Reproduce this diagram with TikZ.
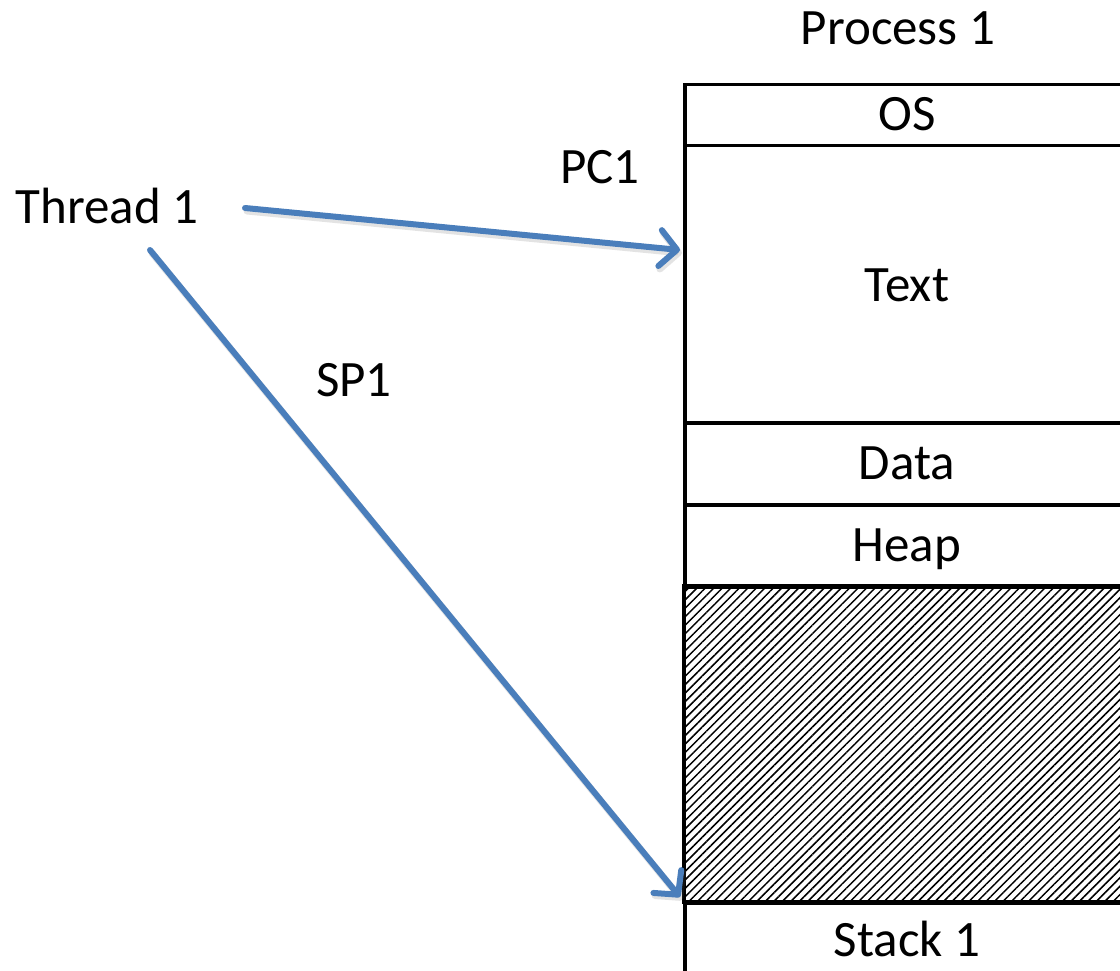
\documentclass[tikz,border=0pt]{standalone}
\usepackage{fontspec}
\setmainfont{Carlito}
\usetikzlibrary{arrows.meta,patterns.meta}
\definecolor{arrowblue}{HTML}{4A7EBB}
\begin{document}
\begin{tikzpicture}[x=1pt,y=-1pt,
  lbl/.style={anchor=base,inner sep=0pt,font=\fontsize{51}{60}\selectfont},
  seg/.style={draw=black,line width=3.5pt,minimum width=480pt,anchor=north west,inner sep=0pt},
  ptr/.style={draw=arrowblue,line width=6pt,line cap=round,
    -{Straight Barb[length=17pt,width=36pt,line width=6pt,round]}},
  ptrshadow/.style={draw=black!60,opacity=0.18,line width=7pt,line cap=round,
    -{Straight Barb[length=17pt,width=36pt,line width=7pt,round]}}]
  \useasboundingbox (0,0) rectangle (1120,971);
  \begin{scope}
    \clip (0,0) rectangle (1120,971);
    % memory layout of the process
    \node[seg,minimum height=61pt] (os) at (683,83) {};
    \node[seg,minimum height=277pt] (text) at (683,144) {};
    \node[seg,minimum height=82pt] (data) at (683,421) {};
    \node[seg,minimum height=82pt] (heap) at (683,503) {};
    \node[seg,minimum height=316pt,
      pattern={Lines[angle=45,distance=6pt,line width=1.5pt]}] (free) at (683,585) {};
    \node[seg,minimum height=120pt] (stack) at (683,901) {};
  \end{scope}
  % labels
  \node[lbl] (title) at (898,45) {Process 1};
  \node[lbl] (oslbl) at (907,131) {OS};
  \node[lbl] (textlbl) at (907,301) {Text};
  \node[lbl] (datalbl) at (907,479) {Data};
  \node[lbl] (heaplbl) at (907,561) {Heap};
  \node[lbl] (stacklbl) at (907,956) {Stack 1};
  \node[lbl] (pc) at (600,184) {PC1};
  \node[lbl] (sp) at (354,396) {SP1};
  \node[lbl] (thread) at (107,223) {Thread 1};
  % pointer ends
  \coordinate (pcstart) at (245,208);
  \coordinate (spstart) at (150,250);
  \coordinate (pctarget) at (680,250);
  \coordinate (sptarget) at (680,897);
  \coordinate (pcstartS) at (247,211);
  \coordinate (spstartS) at (152,253);
  \coordinate (pctargetS) at (682,253);
  \coordinate (sptargetS) at (682,900);
  % soft shadows under the pointers
  \draw[ptrshadow] (pcstartS) -- (pctargetS);
  \draw[ptrshadow] (spstartS) -- (sptargetS);
  \draw[ptr] (pcstart) -- (pctarget);
  \draw[ptr] (spstart) -- (sptarget);
\end{tikzpicture}
\end{document}
